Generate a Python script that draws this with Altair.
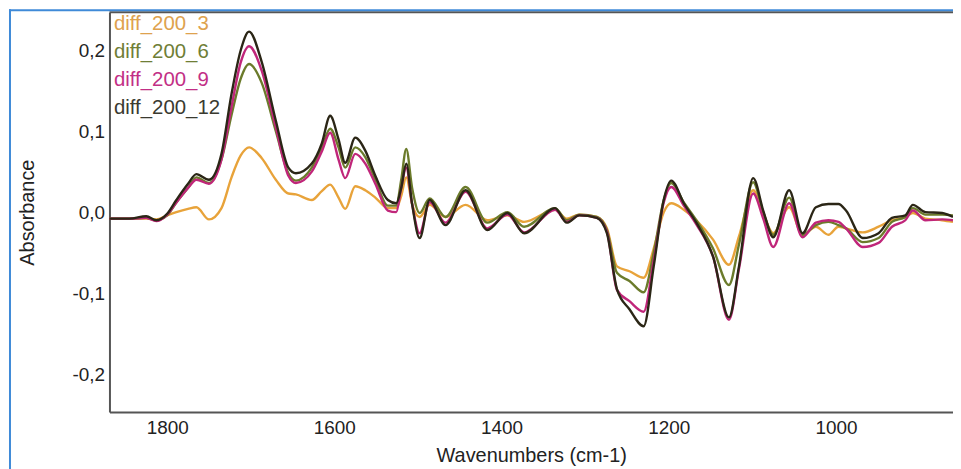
import altair as alt
import pandas as pd

# Wavenumbers (cm-1) sampled along the spectra
wavenumbers = [1869, 1845, 1825, 1813, 1800, 1789, 1775, 1765, 1750, 1735, 1723, 1712, 1702,
               1687, 1670, 1655, 1646, 1627, 1615, 1605, 1595, 1587, 1575, 1563, 1551, 1536,
               1526, 1520, 1514, 1507, 1498, 1486, 1467, 1443, 1417, 1393, 1373, 1336, 1322,
               1307, 1286, 1274, 1262, 1247, 1230, 1218, 1206, 1197, 1182, 1167, 1147, 1128,
               1116, 1099, 1087, 1075, 1056, 1040, 1024, 1009, 997, 988, 968, 949, 933, 917,
               908, 893, 873, 860]

diff_200_3 = [-0.008, -0.008, -0.008, -0.009, -0.004, 0.000, 0.004, 0.006, -0.009, 0.005, 0.043, 0.070, 0.080,
              0.067, 0.040, 0.023, 0.022, 0.015, 0.026, 0.034, 0.018, 0.004, 0.032, 0.027, 0.018, 0.005,
              0.005, 0.020, 0.043, 0.010, -0.006, 0.009, -0.006, 0.009, -0.010, -0.004, -0.012, 0.003, -0.008,
              -0.003, -0.006, -0.020, -0.067, -0.073, -0.081, -0.045, 0.000, 0.011, 0.003, -0.010, -0.034, -0.065,
              -0.030, 0.027, -0.002, -0.026, 0.006, -0.028, -0.018, -0.028, -0.018, -0.020, -0.025, -0.018, -0.010, -0.006,
              -0.001, -0.008, -0.010, -0.012]

diff_200_6 = [-0.008, -0.008, -0.007, -0.010, -0.004, 0.012, 0.030, 0.043, 0.036, 0.065, 0.120, 0.165, 0.183,
              0.160, 0.100, 0.048, 0.039, 0.055, 0.080, 0.103, 0.080, 0.055, 0.080, 0.068, 0.040, 0.008,
              0.008, 0.040, 0.078, 0.030, -0.001, 0.017, -0.006, 0.031, -0.013, 0.000, -0.018, 0.005, -0.010,
              -0.003, -0.006, -0.022, -0.075, -0.085, -0.099, -0.050, 0.015, 0.036, 0.012, -0.010, -0.045, -0.090,
              -0.040, 0.037, 0.000, -0.028, 0.018, -0.028, -0.016, -0.012, -0.016, -0.020, -0.037, -0.032, -0.012, -0.006,
              0.005, -0.003, -0.003, -0.004]

diff_200_9 = [-0.008, -0.008, -0.007, -0.011, -0.003, 0.012, 0.030, 0.040, 0.035, 0.065, 0.130, 0.185, 0.205,
              0.175, 0.105, 0.045, 0.036, 0.050, 0.075, 0.098, 0.065, 0.042, 0.072, 0.060, 0.035, 0.002,
              0.000, 0.030, 0.055, 0.010, -0.026, 0.012, -0.013, 0.025, -0.020, -0.003, -0.025, 0.003, -0.012,
              -0.004, -0.007, -0.024, -0.096, -0.110, -0.123, -0.060, 0.012, 0.031, 0.008, -0.015, -0.055, -0.133,
              -0.070, 0.023, -0.008, -0.043, 0.011, -0.031, -0.013, -0.010, -0.012, -0.020, -0.043, -0.038, -0.018, -0.010,
              0.002, -0.010, -0.009, -0.010]

diff_200_12 = [-0.008, -0.008, -0.005, -0.010, -0.002, 0.015, 0.035, 0.047, 0.040, 0.072, 0.146, 0.200, 0.223,
               0.186, 0.113, 0.055, 0.048, 0.060, 0.085, 0.119, 0.090, 0.061, 0.092, 0.076, 0.045, 0.015,
               0.011, 0.030, 0.060, 0.010, -0.032, 0.015, -0.016, 0.027, -0.022, -0.001, -0.026, 0.005, -0.013,
               -0.004, -0.007, -0.026, -0.095, -0.120, -0.141, -0.067, 0.015, 0.039, 0.011, -0.013, -0.055, -0.130,
               -0.067, 0.042, 0.002, -0.031, 0.027, -0.026, 0.006, 0.010, 0.010, 0.002, -0.032, -0.026, -0.007, -0.004,
               0.009, 0.000, -0.001, -0.006]

series_names = ["diff_200_3", "diff_200_6", "diff_200_9", "diff_200_12"]
series_values = [diff_200_3, diff_200_6, diff_200_9, diff_200_12]
line_colors = ["#E8A33A", "#6B7B2B", "#C0267A", "#2B2616"]
text_colors = ["#DEA24E", "#6F7E36", "#C22F86", "#3A3A30"]

y_ticks = [-0.2, -0.1, 0.0, 0.1, 0.2]
x_ticks = [1000, 1200, 1400, 1600, 1800]

rows = []
for name, vals in zip(series_names, series_values):
    for w, v in zip(wavenumbers, vals):
        rows.append({"wavenumber": w, "absorbance": v, "series": name})
df = pd.DataFrame(rows)

W, H = 848, 402
FONT = "Liberation Sans"

label_color_expr = " : ".join(
    f"datum.value == '{n}' ? '{c}'" for n, c in zip(series_names[:-1], text_colors[:-1])
) + f" : '{text_colors[-1]}'"

lines = alt.Chart(df).mark_line(strokeWidth=2.4, interpolate="monotone").encode(
    x=alt.X("wavenumber:Q",
            scale=alt.Scale(domain=[860, 1869], reverse=True, nice=False, zero=False),
            axis=alt.Axis(values=x_ticks, format="d", title="Wavenumbers (cm-1)",
                          grid=False, tickSize=0, labelPadding=7, titlePadding=8,
                          domainColor="#555555", domainWidth=2,
                          labelFont=FONT, labelFontSize=19, labelColor="#222222",
                          titleFont=FONT, titleFontSize=20, titleFontWeight="normal",
                          titleColor="#222222")),
    y=alt.Y("absorbance:Q",
            scale=alt.Scale(domain=[-0.247, 0.247], nice=False, zero=False),
            axis=alt.Axis(values=y_ticks, title="Absorbance", grid=False, tickSize=0,
                          labelExpr="(datum.value < -0.001 ? '-' : '') + replace(format(abs(datum.value), '.1f'), '.', ',')",
                          labelPadding=5, titlePadding=35,
                          domainColor="#555555", domainWidth=2,
                          labelFont=FONT, labelFontSize=19, labelColor="#222222",
                          titleFont=FONT, titleFontSize=20, titleFontWeight="normal",
                          titleColor="#222222")),
    color=alt.Color("series:N",
                    scale=alt.Scale(domain=series_names, range=line_colors),
                    legend=alt.Legend(orient="none", legendX=-16, legendY=2, title=None,
                                      symbolSize=0, symbolStrokeWidth=0, symbolOpacity=0,
                                      labelOffset=0, rowPadding=7,
                                      labelFont=FONT, labelFontSize=20.5,
                                      labelColor=alt.ExprRef(label_color_expr))),
    detail="series:N",
)

frame = pd.DataFrame({"k": [0]})
top_line = alt.Chart(frame).mark_rule(color="#555555", strokeWidth=2).encode(
    x=alt.value(0), x2=alt.value(W), y=alt.value(0))
blue_left = alt.Chart(frame).mark_rule(color="#3F8AD8", strokeWidth=2).encode(
    x=alt.value(-100), y=alt.value(-3), y2=alt.value(470))
blue_top = alt.Chart(frame).mark_rule(color="#3F8AD8", strokeWidth=2).encode(
    x=alt.value(-101), x2=alt.value(W + 10), y=alt.value(-2))

chart = alt.layer(lines, top_line, blue_left, blue_top).properties(
    width=W, height=H,
    autosize=alt.AutoSizeParams(type="none"),
    padding={"left": 102, "top": 3, "right": 0, "bottom": 58},
    background="white",
).configure_view(stroke=None)

chart.save("out.html", embed_options={"renderer": "svg", "actions": False})
